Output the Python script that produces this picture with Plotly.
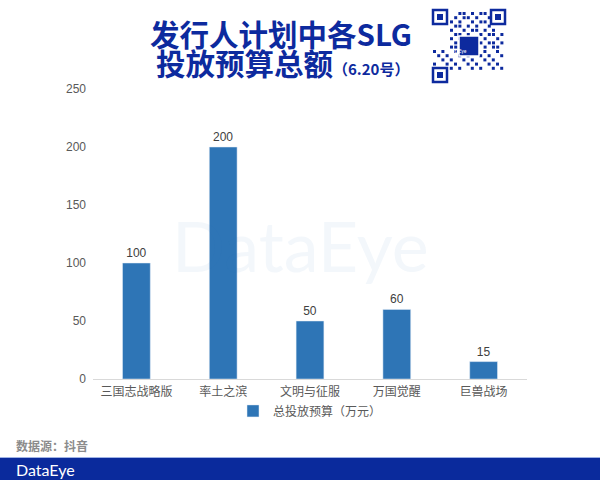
import plotly.graph_objects as go

categories = ["三国志战略版", "率土之滨", "文明与征服", "万国觉醒", "巨兽战场"]
values = [100, 200, 50, 60, 15]
series_name = "总投放预算（万元）"
y_ticks = [0, 50, 100, 150, 200, 250]

BAR = "#2e75b6"
NAVY = "#0d2a9e"
CJK = "Noto Sans CJK SC"

fig = go.Figure()
fig.add_trace(go.Bar(
    x=categories, y=values, name=series_name,
    marker_color=BAR, width=0.32,
    text=[str(v) for v in values], textposition="outside",
    textfont=dict(family="Liberation Sans, Arial", size=12, color="#404040"),
    cliponaxis=False,
))

fig.update_layout(
    width=600, height=480,
    margin=dict(l=93, r=73, t=89, b=101),
    paper_bgcolor="white", plot_bgcolor="white",
    showlegend=True,
    legend=dict(orientation="h", x=0.5, xanchor="center", y=-0.11, yanchor="middle",
                itemwidth=30, bgcolor="rgba(0,0,0,0)",
                font=dict(family=CJK, size=12, color="#595959")),
    xaxis=dict(showline=True, linecolor="#d9d9d9", linewidth=1, ticks="",
               ticklabelstandoff=2,
               tickfont=dict(family=CJK, size=12, color="#595959"), fixedrange=True),
    yaxis=dict(range=[0, 250], tickvals=y_ticks, showgrid=False, zeroline=False,
               showline=False, ticks="", ticklen=0, ticklabelstandoff=6,
               tickfont=dict(family="Liberation Sans, Arial", size=12, color="#595959")),
    bargap=0.68,
)

# watermark
fig.add_annotation(text="DataEye", xref="paper", yref="paper", x=(300 - 93) / 434, y=(379 - 245) / 290,
                   showarrow=False, font=dict(family="Lato, Arial", size=70, color="rgba(46,117,182,0.06)"))

# title lines
fig.add_annotation(text="<b>发行人计划中各SLG</b>", xref="paper", yref="paper",
                   x=(281 - 93) / 434, y=(379 - 33) / 290, showarrow=False,
                   xanchor="center", yanchor="middle",
                   font=dict(family=CJK, size=29.5, color=NAVY))
fig.add_annotation(text="<b>投放预算总额</b><span style='font-size:15px'><b>（6.20号）</b></span>",
                   xref="paper", yref="paper",
                   x=(154 - 93) / 434, y=(379 - 62) / 290, showarrow=False,
                   xanchor="left", yanchor="middle",
                   font=dict(family=CJK, size=29.5, color=NAVY))

# QR code (decorative)
qx0, qy0, qs = 433, 10, 72
shapes = []
def rect(x0, y0, x1, y1, fill, line=None, lw=0):
    return dict(type="rect", xref="paper", yref="paper",
                x0=(x0 - 93) / 434, x1=(x1 - 93) / 434,
                y0=(379 - y1) / 290, y1=(379 - y0) / 290,
                fillcolor=fill, line=dict(width=lw, color=line or fill), layer="above")
for fx, fy in [(qx0, qy0), (qx0 + qs - 14, qy0), (qx0, qy0 + qs - 14)]:
    shapes.append(rect(fx, fy, fx + 14, fy + 14, "white", NAVY, 2.5))
    shapes.append(rect(fx + 4, fy + 4, fx + 10, fy + 10, NAVY))
pattern = [
    "0011010110100",
    "0101101001010",
    "1010010110101",
    "0110101001011",
    "1001011010100",
    "0110100101101",
    "1010011010010",
    "0101100101101",
    "1101010010110",
]
cell = 4.2
for r, row in enumerate(pattern):
    for c, ch in enumerate(row):
        x = qx0 + 17 + c * cell
        y = qy0 + 2 + r * cell
        if ch == "1" and not (x > qx0 + qs - 16 and y < qy0 + 16):
            if x < qx0 + qs - 1:
                shapes.append(rect(x, y, x + 3, y + 3, NAVY))
for r in range(5):
    for c in range(17):
        if (r * 7 + c * 3) % 5 < 2:
            x = qx0 + c * 4.2
            y = qy0 + 40 + r * 4.2
            if not (x < qx0 + 16 and y > qy0 + qs - 16):
                shapes.append(rect(x, y, x + 3, y + 3, NAVY))
shapes.append(rect(qx0 + 26, qy0 + 26, qx0 + 46, qy0 + 46, NAVY, "white", 1.5))
# footer bar
shapes.append(dict(type="rect", xref="paper", yref="paper", x0=-93 / 434, x1=507 / 434,
                   y0=(379 - 480) / 290, y1=(379 - 458) / 290, fillcolor="#0a2a9c",
                   line=dict(width=0), layer="above"))
shapes.append(dict(type="line", xref="paper", yref="paper", x0=-93 / 434, x1=507 / 434,
                   y0=(379 - 457.5) / 290, y1=(379 - 457.5) / 290,
                   line=dict(width=1, color="#9fb3e6"), layer="above"))
fig.update_layout(shapes=shapes)

fig.add_annotation(text="DataEye", xref="paper", yref="paper", x=(qx0 + 36 - 93) / 434,
                   y=(379 - qy0 - 36) / 290, showarrow=False,
                   font=dict(family="Lato", size=5, color="white"))

fig.add_annotation(text="<b>数据源：抖音</b>", xref="paper", yref="paper",
                   x=-(93 - 14) / 434, y=(379 - 445) / 290, xanchor="left", yanchor="middle",
                   showarrow=False, font=dict(family=CJK, size=12, color="#8c8c8c"))
fig.add_annotation(text="DataEye", xref="paper", yref="paper",
                   x=-(93 - 14) / 434, y=(379 - 469) / 290, xanchor="left", yanchor="middle",
                   showarrow=False, font=dict(family="Lato", size=16, color="white"))

fig.write_html("out.html", config={"displayModeBar": False},
               post_script="document.body.style.margin='0';document.body.style.overflow='hidden';")
